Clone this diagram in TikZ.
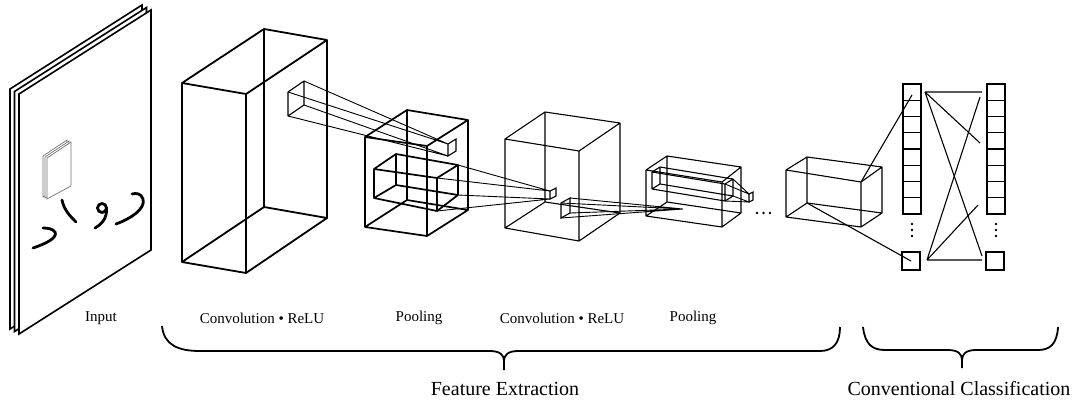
\documentclass[tikz,border=0pt]{standalone}
\usepackage{fontspec}
\setmainfont{Liberation Serif}
\newcommand{\mkcuboid}[9]{%
  \coordinate (#1-a) at (#2); \coordinate (#1-b) at (#3);
  \coordinate (#1-c) at (#4); \coordinate (#1-d) at (#5);
  \coordinate (#1-e) at (#6); \coordinate (#1-f) at (#7);
  \coordinate (#1-g) at (#8); \coordinate (#1-h) at (#9);}
\newcommand{\wire}[2]{\draw[#1] (#2-a)--(#2-b)--(#2-c)--(#2-d)--cycle
  (#2-e)--(#2-f)--(#2-g)--(#2-h)--cycle
  (#2-a)--(#2-e) (#2-b)--(#2-f) (#2-c)--(#2-g) (#2-d)--(#2-h);}
\tikzset{
  heavybox/.style={line width=1.8pt, line join=round},
  midbox/.style={line width=1.7pt, line join=round},
  lightbox/.style={line width=1.1pt, line join=round},
  ray/.style={line width=0.9pt},
  sheet/.style={draw, fill=white, line width=1.6pt, line join=miter},
  mini/.style={draw=black!55, fill=white, line width=0.7pt},
  ink/.style={line width=2.8pt, line cap=round},
  cell/.style={draw, line width=1.4pt, minimum width=18pt, minimum height=16.25pt, inner sep=0pt, outer sep=0pt},
  lab/.style={font=\fontsize{15}{18}\selectfont, inner sep=0pt},
  big/.style={font=\fontsize{20}{24}\selectfont, inner sep=0pt},
  brace/.style={line width=1.8pt, line join=round},
  link/.style={line width=1.1pt},
  vdot/.style={fill, circle, inner sep=0pt, minimum size=2.6pt},
}
\begin{document}
\begin{tikzpicture}[x=1pt, y=-1pt]
\useasboundingbox (0,0) rectangle (1078,405);

% ---------- input sheets ----------
\foreach \dx/\dy in {-9/-5, -4.5/-2.5, 0/0}
  \draw[sheet, shift={(\dx,\dy)}] (19,94) -- (151,10) -- (151,250) -- (19,334) -- cycle;
\foreach \dx/\dy in {-4/-2, -2/-1, 0/0}
  \draw[mini, shift={(\dx,\dy)}] (47,158) -- (71,142) -- (71,186) -- (47,199) -- cycle;
% handwritten digits
\draw[ink] (33,248) .. controls (45,244) and (58,238) .. (55,232) .. controls (53,229) and (48,228) .. (43,228);
\draw[ink] (62,200) .. controls (64,210) and (70,216) .. (76,222);
\draw[ink] (102,208) circle (4.5);
\draw[ink] (106.5,209) .. controls (107,218) and (102,224) .. (95,228);
\draw[ink] (116,224) .. controls (130,219) and (146,209) .. (143,199) .. controls (141,193) and (136,193) .. (132,194);

% ---------- convolution 1 ----------
\mkcuboid{cv1}{182,83}{246,94}{246,273}{182,262}{264,29}{327,40}{327,218}{264,207}
\wire{heavybox}{cv1}
\coordinate (k1-tl) at (288,92); \coordinate (k1-bl) at (288,116);
\coordinate (k1-tr) at (304,81); \coordinate (k1-br) at (304,105);
\draw[line width=1.1pt, line join=round] (k1-tl)--(k1-tr)--(k1-br)--(k1-bl)--cycle;

% ---------- pooling 1 ----------
\mkcuboid{pl1}{365,137}{427,146}{427,236}{365,227}{407,110}{468,120}{468,210}{407,200}
\wire{midbox}{pl1}
\mkcuboid{pi1}{374,169}{437,178}{437,211}{374,198}{396,154}{458,165}{458,195}{396,185}
\wire{midbox}{pi1}
\coordinate (s1-tl) at (448,144); \coordinate (s1-tr) at (456,139);
\coordinate (s1-br) at (456,151); \coordinate (s1-bl) at (448,156);
\draw[line width=1.1pt] (s1-tl)--(s1-tr)--(s1-br)--(s1-bl)--cycle;
\draw[ray] (k1-tr) -- (s1-tl) (k1-tl) -- (s1-tl) (k1-br) -- (s1-bl) (k1-bl) -- (s1-bl);

% ---------- convolution 2 ----------
\mkcuboid{cv2}{505,139}{579,151}{579,241}{505,228}{545,112}{620,123}{620,213}{545,202}
\wire{lightbox}{cv2}
\coordinate (s2-tl) at (550,191); \coordinate (s2-tr) at (556,188);
\coordinate (s2-br) at (556,196); \coordinate (s2-bl) at (550,199);
\draw[line width=1.1pt] (s2-tl)--(s2-tr)--(s2-br)--(s2-bl)--cycle;
\draw[ray] (pi1-f) -- (s2-tl) (pi1-b) -- (s2-tl) (pi1-g) -- (s2-bl) (pi1-c) -- (s2-bl);
\coordinate (k2-tl) at (561,203); \coordinate (k2-bl) at (561,218);
\coordinate (k2-tr) at (570,198); \coordinate (k2-br) at (570,213);
\draw[line width=1.1pt] (k2-tl)--(k2-tr)--(k2-br)--(k2-bl)--cycle;
\coordinate (sp2) at (683,209);
\draw[ray] (k2-tl) -- (sp2) (k2-tr) -- (sp2) (k2-br) -- (sp2) (k2-bl) -- (sp2);

% ---------- pooling 2 ----------
\mkcuboid{pl2}{646,170}{722,182}{722,227}{646,216}{667,156}{741,167}{741,213}{667,202}
\wire{lightbox}{pl2}
\mkcuboid{pi2}{652,172}{725,184}{725,201}{652,189}{660,167}{733,179}{733,196}{660,184}
\wire{lightbox}{pi2}
\coordinate (s3-tl) at (749,194); \coordinate (s3-tr) at (753,192);
\coordinate (s3-br) at (753,200); \coordinate (s3-bl) at (749,202);
\draw[line width=1.1pt] (s3-tl)--(s3-tr)--(s3-br)--(s3-bl)--cycle;
\draw[ray] (pi2-f) -- (s3-tl) (pi2-b) -- (s3-tl) (pi2-g) -- (s3-bl) (pi2-c) -- (s3-bl);

% dots
\node[vdot] (h1) at (757,213) {};
\node[vdot] (h2) at (763.5,213) {};
\node[vdot] (h3) at (770,213) {};

% ---------- last feature box ----------
\mkcuboid{bx3}{786,170}{861,182}{861,227}{786,217}{807,157}{882,167}{882,213}{807,203}
\wire{lightbox}{bx3}

% ---------- classification columns ----------
\foreach \i in {1,...,8} {
  \node[cell] (ca-\i) at (912,{84+16.25*(\i-0.5)}) {};
  \node[cell] (cb-\i) at (996,{84+16.25*(\i-0.5)}) {};
}
\node[cell, minimum height=18pt] (ca-n) at (911,261) {};
\node[cell, minimum height=18pt] (cb-n) at (995,261) {};
\foreach \yy in {224,230,236} {
  \node[vdot] at (912,\yy) {};
  \node[vdot] at (996,\yy) {};
}
\coordinate (l-top) at (912,95);
\draw[link] (bx3-b) -- (l-top);
\draw[link] (bx3-h) -- (ca-n.center);
\coordinate (xa) at (925,92);  \coordinate (xb) at (927,260);
\coordinate (ya1) at (982,92); \coordinate (ya2) at (980,143); \coordinate (ya3) at (982,256);
\coordinate (yb1) at (982,260); \coordinate (yb2) at (980,97); \coordinate (yb3) at (978,205);
\draw[link] (xa) -- (ya1) (xa) -- (ya2) (xa) -- (ya3);
\draw[link] (xb) -- (yb1) (xb) -- (yb2) (xb) -- (yb3);

% ---------- labels ----------
\node[lab] (t-in) at (101,318) {Input};
\node[lab] (t-c1) at (262,318) {Convolution • ReLU};
\node[lab] (t-p1) at (419,318) {Pooling};
\node[lab] (t-c2) at (562,318) {Convolution • ReLU};
\node[lab] (t-p2) at (693,318) {Pooling};
\node[big] (t-fe) at (505,389) {Feature Extraction};
\node[big] (t-cc) at (959,389) {Conventional Classification};

% ---------- braces ----------
\draw[brace] (162,326) .. controls (164,345) and (178,351) .. (200,351) -- (490,351)
  .. controls (500,351) and (504,355) .. (504,361) -- (504,370);
\draw[brace] (504,361) .. controls (504,355) and (508,351) .. (518,351) -- (820,351)
  .. controls (834,351) and (840,342) .. (840,327);
\draw[brace] (863,327) .. controls (865,344) and (872,350) .. (885,350) -- (948,350)
  .. controls (958,350) and (962,354) .. (962,360) -- (962,368);
\draw[brace] (962,360) .. controls (962,354) and (966,350) .. (976,350) -- (1038,350)
  .. controls (1050,350) and (1057,344) .. (1058,327);
\end{tikzpicture}
\end{document}
